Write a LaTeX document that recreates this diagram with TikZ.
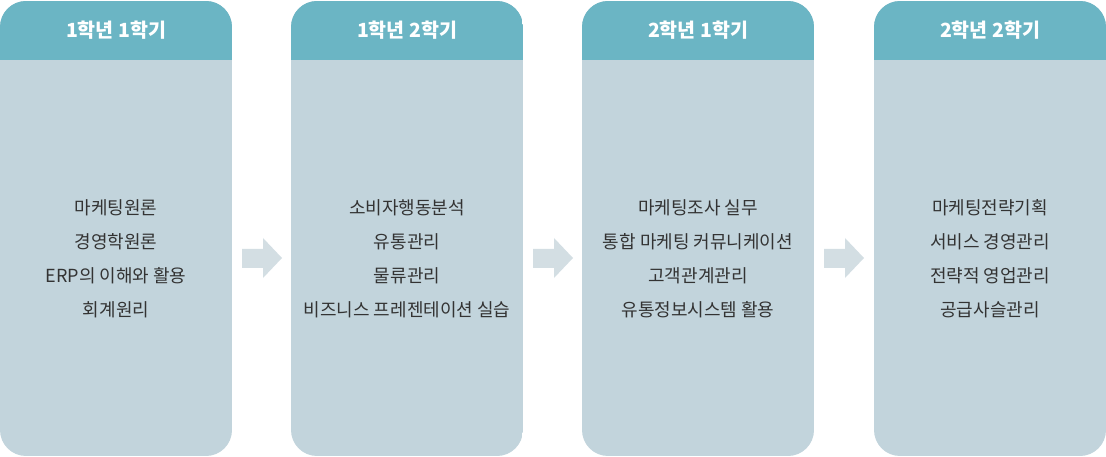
\documentclass[tikz,border=0pt]{standalone}
\usepackage{fontspec}
\newfontfamily\kr{Noto Sans CJK KR}
\definecolor{hdr}{HTML}{6BB5C4}
\definecolor{bdy}{HTML}{C2D4DC}
\definecolor{arr}{HTML}{D3DEE3}
\definecolor{txt}{HTML}{333333}
\tikzset{hd/.style={text=white,font=\kr\fontsize{19.5}{22}\selectfont\bfseries},
 item/.style={text=txt,font=\kr\fontsize{18}{34}\selectfont,align=center}}
\begin{document}
\begin{tikzpicture}[x=1pt,y=-1pt]
\useasboundingbox (0,0) rectangle (1106,457);
\foreach \x/\h/\n in {0/1학년 1학기/a,291/1학년 2학기/b,582/2학년 1학기/c,874/2학년 2학기/d}{
 \begin{scope}
 \path[clip,rounded corners=26] (\x,1) rectangle (\x+232,456);
 \fill[bdy] (\x,1) rectangle (\x+232,456);
 \fill[hdr] (\x,1) rectangle (\x+232,60);
 \end{scope}
 \node[hd] (h\n) at (\x+116,30) {\h};
}
\node[item] (ta) at (116,259) {마케팅원론\\경영학원론\\ERP의 이해와 활용\\회계원리};
\node[item] (tb) at (407,259) {소비자행동분석\\유통관리\\물류관리\\비즈니스 프레젠테이션 실습};
\node[item] (tc) at (698,259) {마케팅조사 실무\\통합 마케팅 커뮤니케이션\\고객관계관리\\유통정보시스템 활용};
\node[item] (td) at (990,259) {마케팅전략기획\\서비스 경영관리\\전략적 영업관리\\공급사슬관리};
\foreach \x/\n in {242/1,533/2,824/3}{
 \fill[arr] (\x,249) -- (\x+21,249) -- (\x+21,238) -- (\x+40,258) -- (\x+21,278) -- (\x+21,268) -- (\x,268) -- cycle;
}
\end{tikzpicture}
\end{document}
